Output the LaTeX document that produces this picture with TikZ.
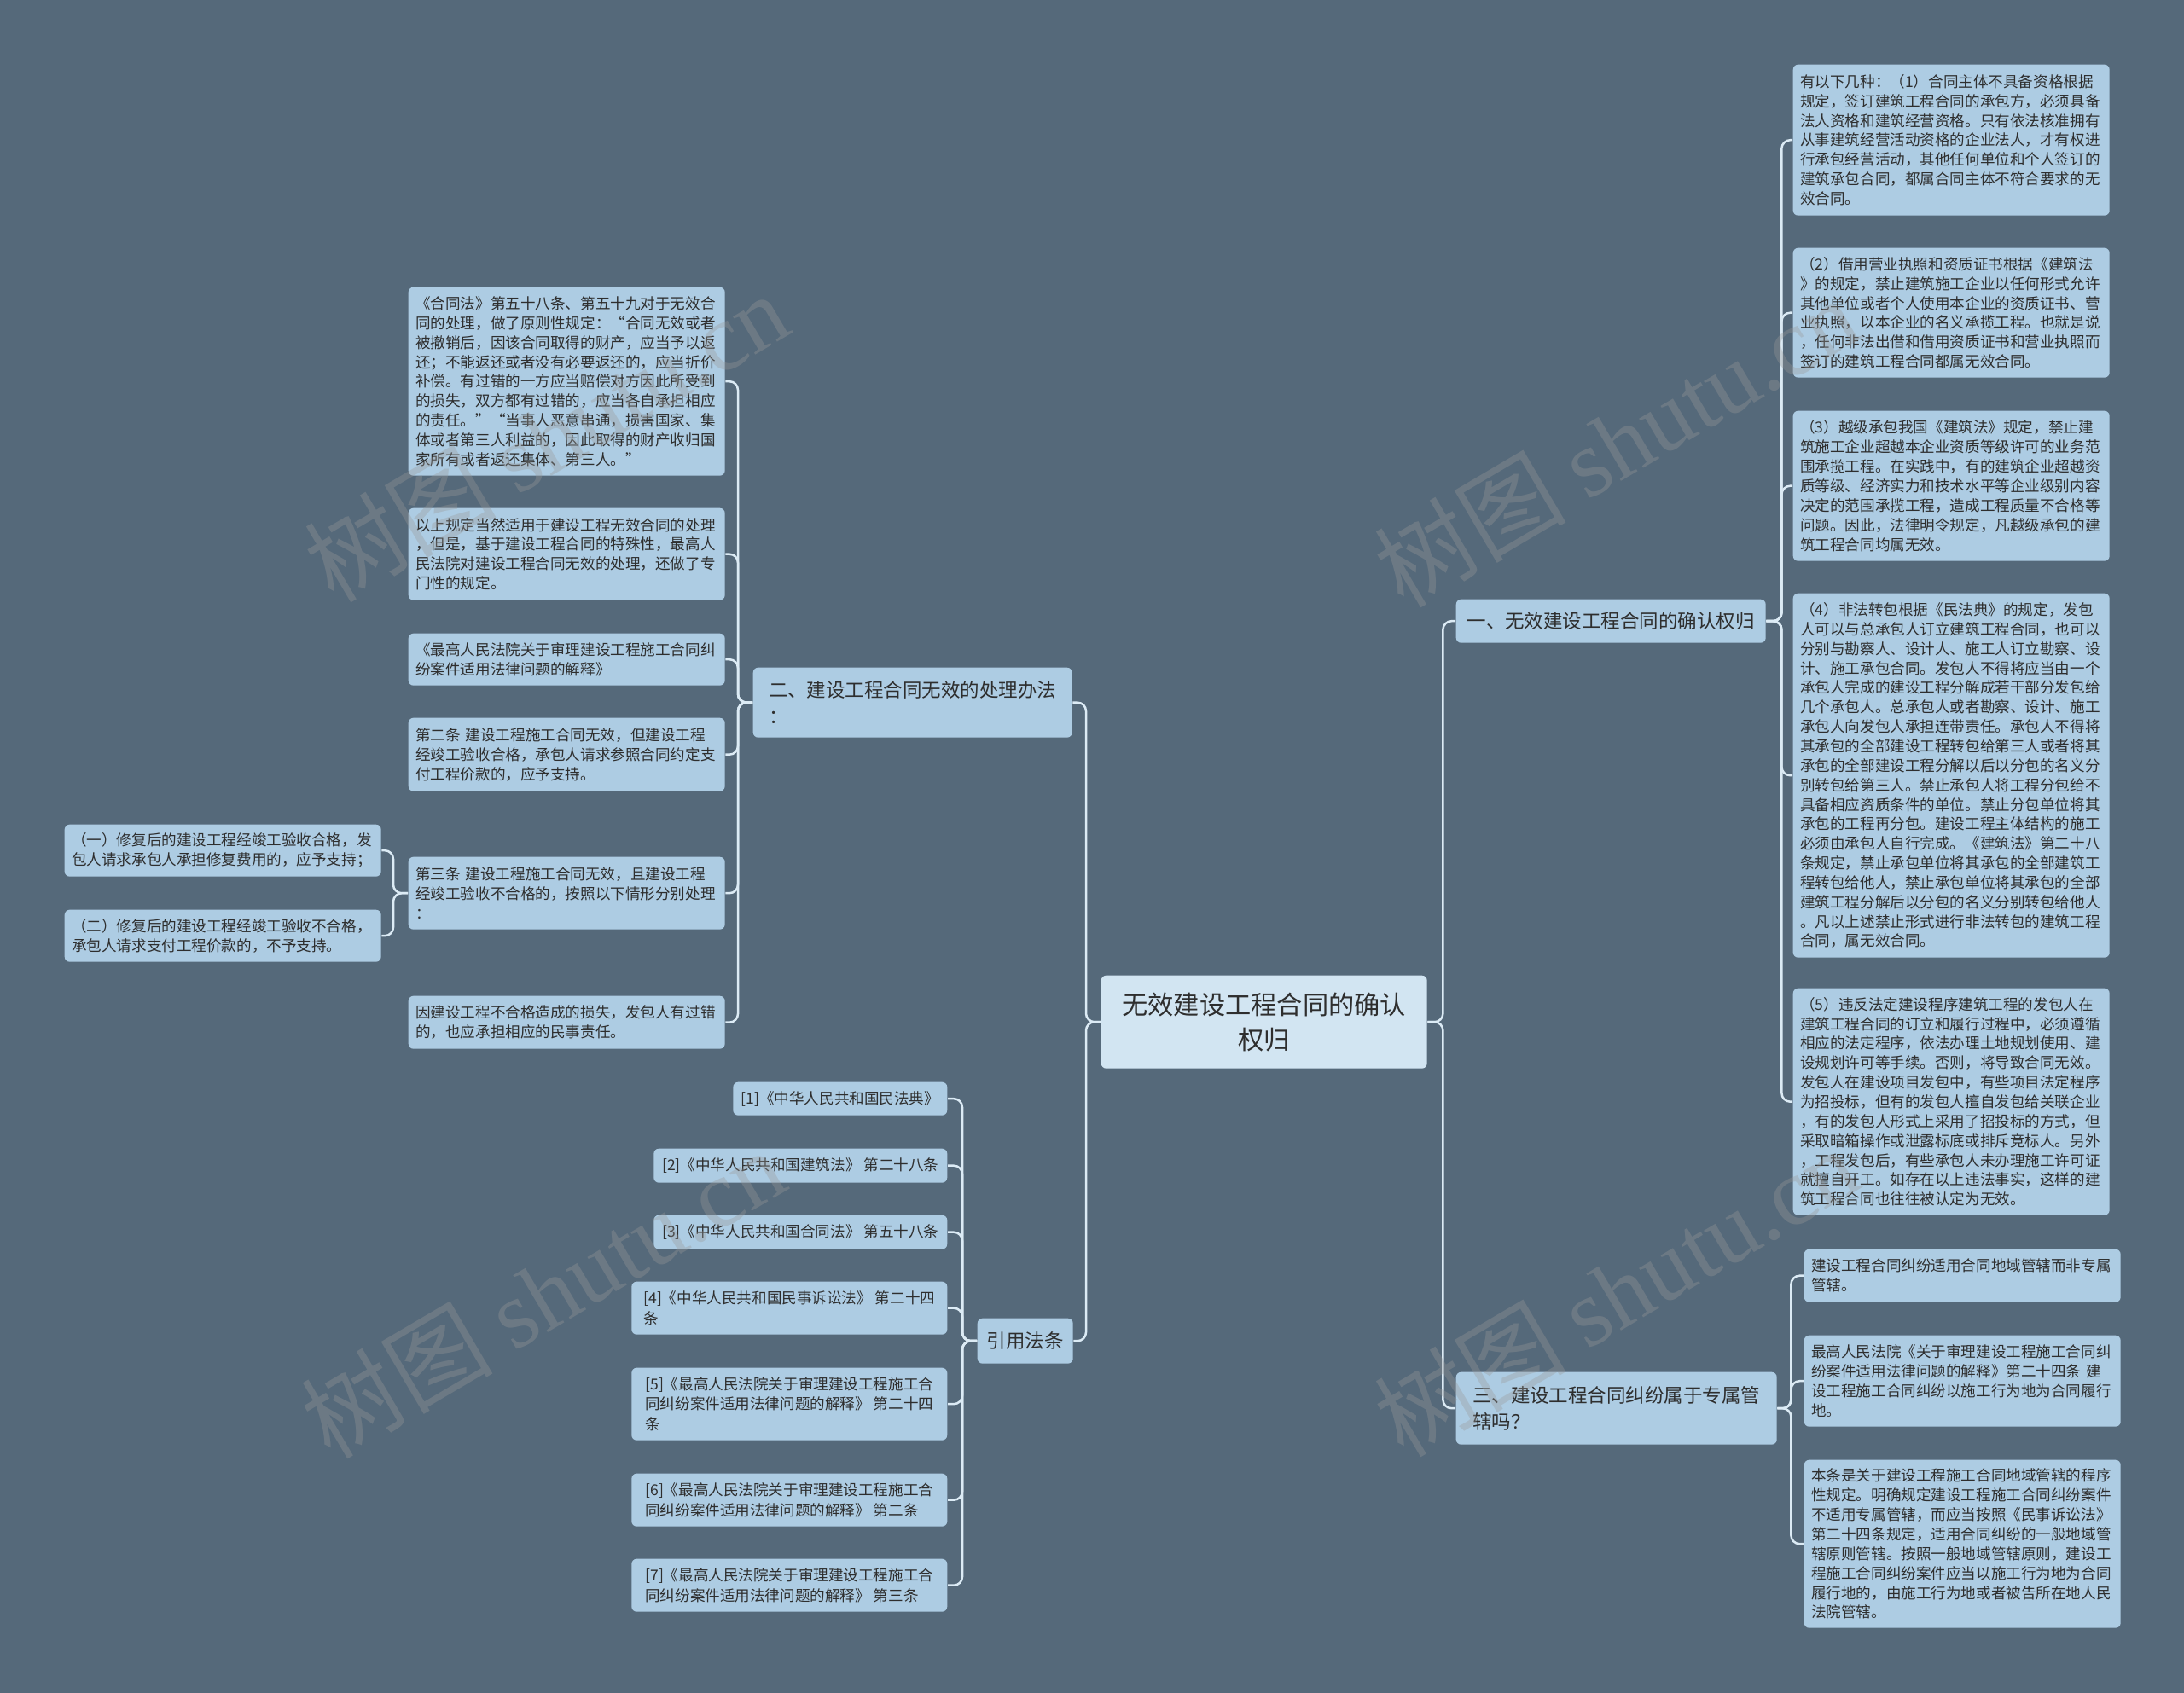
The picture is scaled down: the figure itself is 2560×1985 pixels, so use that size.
\documentclass[tikz,border=0pt]{standalone}
\usepackage{fontspec}
\setmainfont{Noto Sans CJK SC}
\newfontfamily\wmfont{Liberation Serif}
\usepackage{tikz}
\definecolor{slate}{HTML}{55697A}
\definecolor{paleblue}{HTML}{ADCCE3}
\definecolor{hubblue}{HTML}{D2E5F2}
\definecolor{ink}{HTML}{2E2E2E}
\definecolor{wirec}{HTML}{DCEBF5}
\tikzset{
  mmap/.style={x=0.1mm, y=-0.1mm, every node/.style={fill=paleblue, text=ink, rounded corners=0.6mm, inner xsep=0.85mm, inner ysep=0.5mm, align=left}},
  hub/.style={anchor=north west, fill=hubblue, align=center, font=\fontsize{8.6}{11.6}\selectfont},
  topic/.style={anchor=north west, font=\fontsize{6.4}{8.8}\selectfont},
  note/.style={anchor=north west, text width=35.4mm, minimum height=#1mm, font=\fontsize{5}{6.5}\selectfont},
  cite/.style={anchor=north east, minimum height=#1mm, font=\fontsize{5}{6.6}\selectfont},
  wire/.style={draw=wirec, line width=0.25mm, rounded corners=1mm},
  wmark/.style={fill=none, rotate=30.5, text=gray!80, text opacity=0.35, font=\fontsize{32}{32}\selectfont}
}

\begin{document}
\begin{tikzpicture}[mmap]
\path[fill=slate, use as bounding box] (0,0) rectangle (2560,1985);

\node[hub, minimum width=38.2mm, minimum height=10.9mm] (root) at (1290,1143) {无效建设工程合同的确认\\权归};

\node[topic, minimum width=36.3mm, minimum height=5.1mm] (t1) at (1706,702) {一、无效建设工程合同的确认权归};
\node[topic, minimum width=37.4mm, minimum height=8.2mm] (t2) at (882,782) {二、建设工程合同无效的处理办法\\：};
\node[topic, minimum width=11.2mm, minimum height=5.3mm] (t3) at (1145,1545) {引用法条};
\node[topic, minimum width=37.6mm, minimum height=8.5mm] (t4) at (1706,1608) {三、建设工程合同纠纷属于专属管\\辖吗？};

\node[note=17.7] (r1) at (2101,75) {有以下几种：（1）合同主体不具备资格根据\\规定，签订建筑工程合同的承包方，必须具备\\法人资格和建筑经营资格。只有依法核准拥有\\从事建筑经营活动资格的企业法人，才有权进\\行承包经营活动，其他任何单位和个人签订的\\建筑承包合同，都属合同主体不符合要求的无\\效合同。};
\node[note=15.2] (r2) at (2101,290) {（2）借用营业执照和资质证书根据《建筑法\\》的规定，禁止建筑施工企业以任何形式允许\\其他单位或者个人使用本企业的资质证书、营\\业执照，以本企业的名义承揽工程。也就是说\\，任何非法出借和借用资质证书和营业执照而\\签订的建筑工程合同都属无效合同。};
\node[note=17.6] (r3) at (2101,481) {（3）越级承包我国《建筑法》规定，禁止建\\筑施工企业超越本企业资质等级许可的业务范\\围承揽工程。在实践中，有的建筑企业超越资\\质等级、经济实力和技术水平等企业级别内容\\决定的范围承揽工程，造成工程质量不合格等\\问题。因此，法律明令规定，凡越级承包的建\\筑工程合同均属无效。};
\node[note=42.7] (r4) at (2101,695) {（4）非法转包根据《民法典》的规定，发包\\人可以与总承包人订立建筑工程合同，也可以\\分别与勘察人、设计人、施工人订立勘察、设\\计、施工承包合同。发包人不得将应当由一个\\承包人完成的建设工程分解成若干部分发包给\\几个承包人。总承包人或者勘察、设计、施工\\承包人向发包人承担连带责任。承包人不得将\\其承包的全部建设工程转包给第三人或者将其\\承包的全部建设工程分解以后以分包的名义分\\别转包给第三人。禁止承包人将工程分包给不\\具备相应资质条件的单位。禁止分包单位将其\\承包的工程再分包。建设工程主体结构的施工\\必须由承包人自行完成。《建筑法》第二十八\\条规定，禁止承包单位将其承包的全部建筑工\\程转包给他人，禁止承包单位将其承包的全部\\建筑工程分解后以分包的名义分别转包给他人\\。凡以上述禁止形式进行非法转包的建筑工程\\合同，属无效合同。};
\node[note=26.6] (r5) at (2101,1158) {（5）违反法定建设程序建筑工程的发包人在\\建筑工程合同的订立和履行过程中，必须遵循\\相应的法定程序，依法办理土地规划使用、建\\设规划许可等手续。否则，将导致合同无效。\\发包人在建设项目发包中，有些项目法定程序\\为招投标，但有的发包人擅自发包给关联企业\\，有的发包人形式上采用了招投标的方式，但\\采取暗箱操作或泄露标底或排斥竞标人。另外\\，工程发包后，有些承包人未办理施工许可证\\就擅自开工。如存在以上违法事实，这样的建\\筑工程合同也往往被认定为无效。};

\node[note=6.2] (q1) at (2114,1464) {建设工程合同纠纷适用合同地域管辖而非专属\\管辖。};
\node[note=10.7] (q2) at (2114,1565) {最高人民法院《关于审理建设工程施工合同纠\\纷案件适用法律问题的解释》第二十四条 建\\设工程施工合同纠纷以施工行为地为合同履行\\地。};
\node[note=19.7] (q3) at (2114,1711) {本条是关于建设工程施工合同地域管辖的程序\\性规定。明确规定建设工程施工合同纠纷案件\\不适用专属管辖，而应当按照《民事诉讼法》\\第二十四条规定，适用合同纠纷的一般地域管\\辖原则管辖。按照一般地域管辖原则，建设工\\程施工合同纠纷案件应当以施工行为地为合同\\履行地的，由施工行为地或者被告所在地人民\\法院管辖。};

\node[note=22.1] (p1) at (478,336) {《合同法》第五十八条、第五十九对于无效合\\同的处理，做了原则性规定：“合同无效或者\\被撤销后，因该合同取得的财产，应当予以返\\还；不能返还或者没有必要返还的，应当折价\\补偿。有过错的一方应当赔偿对方因此所受到\\的损失，双方都有过错的，应当各自承担相应\\的责任。”“当事人恶意串通，损害国家、集\\体或者第三人利益的，因此取得的财产收归国\\家所有或者返还集体、第三人。”};
\node[note=10.8] (p2) at (478,595) {以上规定当然适用于建设工程无效合同的处理\\，但是，基于建设工程合同的特殊性，最高人\\民法院对建设工程合同无效的处理，还做了专\\门性的规定。};
\node[note=6.1] (p3) at (478,742) {《最高人民法院关于审理建设工程施工合同纠\\纷案件适用法律问题的解释》};
\node[note=8.6] (p4) at (478,841) {第二条 建设工程施工合同无效，但建设工程\\经竣工验收合格，承包人请求参照合同约定支\\付工程价款的，应予支持。};
\node[note=8.5] (p5) at (478,1004) {第三条 建设工程施工合同无效，且建设工程\\经竣工验收不合格的，按照以下情形分别处理\\：};
\node[note=6.2] (p6) at (478,1167) {因建设工程不合格造成的损失，发包人有过错\\的，也应承担相应的民事责任。};

\node[note=6.1] (s1) at (75,966) {（一）修复后的建设工程经竣工验收合格，发\\包人请求承包人承担修复费用的，应予支持；};
\node[note=6.1] (s2) at (75,1066) {（二）修复后的建设工程经竣工验收不合格，\\承包人请求支付工程价款的，不予支持。};

\node[cite=3.9, minimum width=25.1mm] (c1) at (1111,1268) {[1]《中华人民共和国民法典》};
\node[cite=4.0, minimum width=34.4mm] (c2) at (1111,1346) {[2]《中华人民共和国建筑法》 第二十八条};
\node[cite=4.0, minimum width=34.4mm] (c3) at (1111,1424) {[3]《中华人民共和国合同法》 第五十八条};
\node[cite=6.2, minimum width=37mm] (c4) at (1111,1502) {[4]《中华人民共和国民事诉讼法》 第二十四\\条};
\node[cite=8.5, minimum width=37mm] (c5) at (1111,1603) {[5]《最高人民法院关于审理建设工程施工合\\同纠纷案件适用法律问题的解释》 第二十四\\条};
\node[cite=6.2, minimum width=37mm] (c6) at (1111,1727) {[6]《最高人民法院关于审理建设工程施工合\\同纠纷案件适用法律问题的解释》 第二条};
\node[cite=6.2, minimum width=37mm] (c7) at (1111,1827) {[7]《最高人民法院关于审理建设工程施工合\\同纠纷案件适用法律问题的解释》 第三条};

\foreach \t in {t1,t4} \draw[wire] (root.east) -- ++(18,0) |- (\t.west);
\foreach \t in {t2,t3} \draw[wire] (root.west) -- ++(-17,0) |- (\t.east);
\foreach \k in {1,...,5} \draw[wire] (t1.east) -- ++(18,0) |- (r\k.west);
\foreach \k in {1,2,3} \draw[wire] (t4.east) -- ++(16,0) |- (q\k.west);
\foreach \k in {1,...,6} \draw[wire] (t2.west) -- ++(-17,0) |- (p\k.east);
\foreach \k in {1,2} \draw[wire] (p5.west) -- ++(-17,0) |- (s\k.east);
\foreach \k in {1,...,7} \draw[wire] (t3.west) -- ++(-17,0) |- (c\k.east);

\foreach \x/\y [count=\n] in {640/512, 636/1516, 1894/518, 1894/1514}
  \node[wmark] (w\n) at (\x,\y) {树图 {\wmfont shutu.cn}};
\end{tikzpicture}
\end{document}
